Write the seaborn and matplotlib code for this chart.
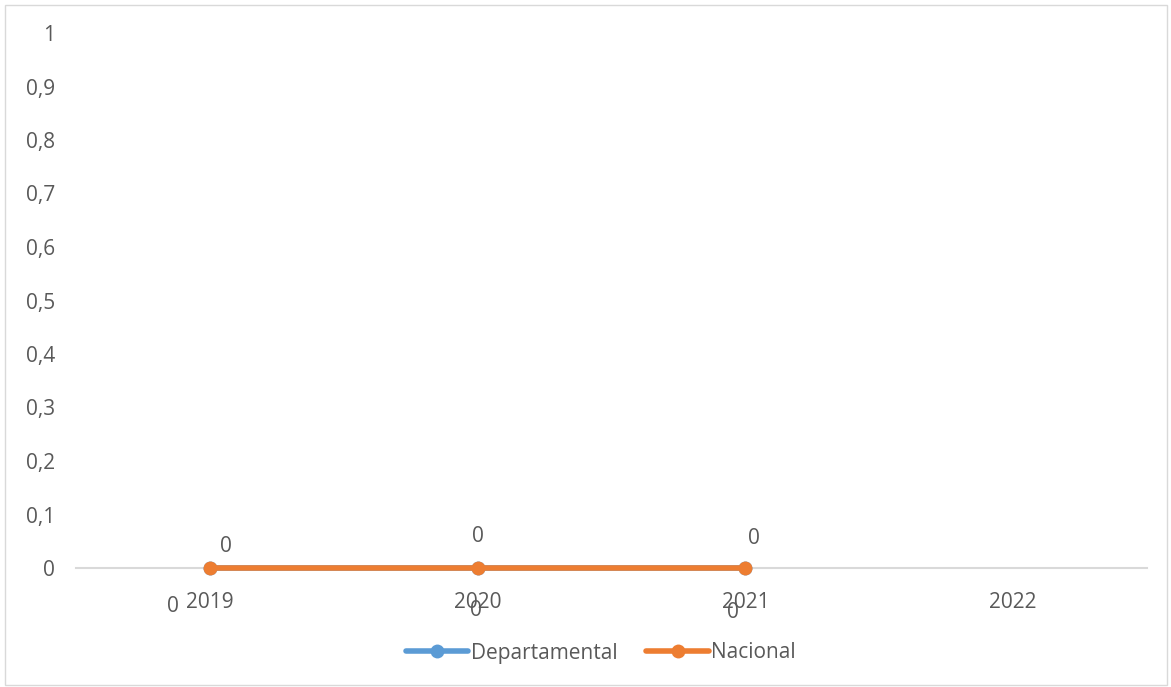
import pandas as pd
import matplotlib.pyplot as plt
import seaborn as sns
from matplotlib.patches import Rectangle

# Data
years = ['2019', '2020', '2021', '2022']
departamental = [0, 0, 0, None]
nacional = [0, 0, 0, None]

blue = '#5B9BD5'
orange = '#ED7D31'
text_col = '#595959'

sns.set_theme(style='white')
plt.rcParams['font.family'] = ['Open Sans', 'DejaVu Sans']

df = pd.DataFrame({'pos': range(len(years)), 'Year': years,
                   'Departamental': departamental, 'Nacional': nacional})

fig = plt.figure(figsize=(11.71, 6.87), dpi=100)
ax = fig.add_axes([76 / 1171, 1 - 568 / 687, (1147 - 76) / 1171, (568 - 33) / 687])

sns.lineplot(data=df, x='pos', y='Departamental', ax=ax, color=blue, linewidth=4,
             marker='o', markersize=10, markeredgewidth=0, label='Departamental', clip_on=False)
sns.lineplot(data=df, x='pos', y='Nacional', ax=ax, color=orange, linewidth=4,
             marker='o', markersize=10, markeredgewidth=0, label='Nacional', clip_on=False)

# data labels
fs = 15
dep_off = [(-37, -38), (-2, -42), (-12, -44)]
nac_off = [(16, 22), (0, 32), (9, 30)]
for i, v in enumerate(departamental):
    if v is not None:
        ax.annotate(f'{v:g}', (i, v), xytext=dep_off[i], textcoords='offset pixels',
                    ha='center', va='center', fontsize=fs, color=text_col)
for i, v in enumerate(nacional):
    if v is not None:
        ax.annotate(f'{v:g}', (i, v), xytext=nac_off[i], textcoords='offset pixels',
                    ha='center', va='center', fontsize=fs, color=text_col)

ax.set_xlim(-0.5, 3.5)
ax.set_ylim(0, 1)
ax.set_xticks(range(len(years)))
ax.set_xticklabels(years)
yt = [i / 10 for i in range(11)]
ax.set_yticks(yt)
ax.set_yticklabels([f'{t:g}'.replace('.', ',') for t in yt])
ax.tick_params(axis='both', labelsize=fs, colors=text_col, length=0)
ax.tick_params(axis='y', pad=15)
ax.tick_params(axis='x', pad=17)
ax.set_xlabel('')
ax.set_ylabel('')
for s in ['top', 'right', 'left']:
    ax.spines[s].set_visible(False)
ax.spines['bottom'].set_color('#D9D9D9')
ax.spines['bottom'].set_linewidth(1.5)
ax.spines['bottom'].set_zorder(0)

leg = ax.legend(loc='center', bbox_to_anchor=(0.49, (568 - 653) / (568 - 33)), ncol=2,
                frameon=False, fontsize=fs, handlelength=3.0, handletextpad=0.1,
                columnspacing=1.4)
for t in leg.get_texts():
    t.set_color(text_col)

fig.add_artist(Rectangle((5 / 1171, 2 / 687), 1162 / 1171, 680 / 687, transform=fig.transFigure,
                         fill=False, edgecolor='#D9D9D9', linewidth=1))

fig.savefig('out.png', dpi=100)
